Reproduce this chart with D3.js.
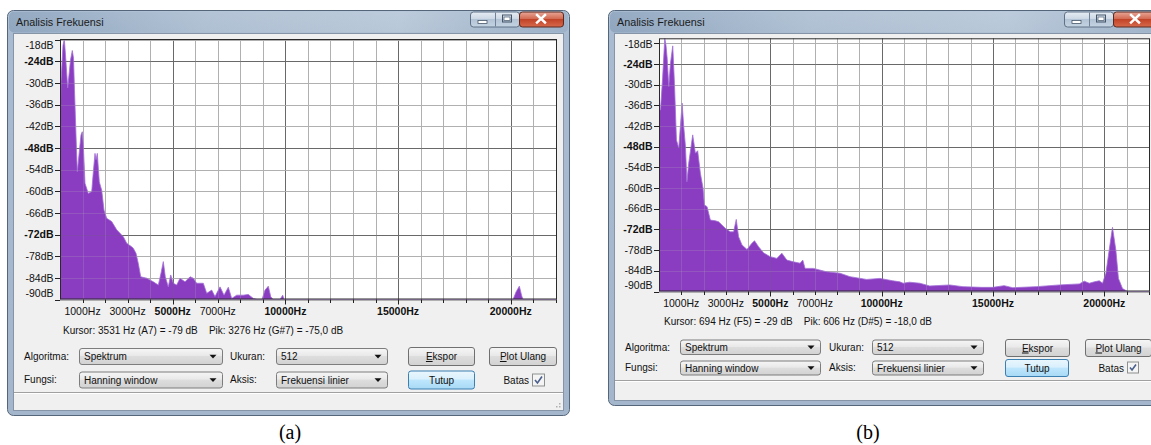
<!DOCTYPE html>
<html>
<head>
<meta charset="utf-8">
<script src="https://cdn.jsdelivr.net/npm/d3@7"></script>
<style>
html, body { margin: 0; padding: 0; background: #fff; }
svg { display: block; font-family: "Liberation Sans", Arial, sans-serif; }
</style>
</head>
<body>
<div id="container"></div>
<script>
// spectrum (a): frequency in Hz, level in dB (values below -90 are off the plot)
const freqA = [0, 44, 133, 191, 244, 288, 342, 399, 466, 546, 599, 643, 688, 732, 768, 821, 887, 932, 989, 1034,
    1109, 1256, 1407, 1486, 1553, 1597, 1655, 1744, 1850, 1952, 2072, 2294, 2516, 2809, 2959, 3181, 3252, 3372, 3474, 3581,
    3847, 4140, 4362, 4481, 4583, 4672, 4805, 4912, 5027, 5178, 5324, 5546, 5768, 5915, 6065, 6358, 6509, 6731, 6877, 7099,
    7277, 7468, 7618, 7840, 8133, 8355, 8577, 8741, 8963, 9096, 9242, 9349, 9451, 9761, 9881, 9939, 20100, 20233, 20379, 20485,
    20543, 22050];
const dbA = [-40.3, -29.7, -19.5, -17.8, -22.2, -26.4, -31.4, -27.8, -23.6, -21.0, -23.1, -31.9, -40.3, -48.6, -54.6, -51.3, -47.2, -44.4, -43.5, -47.2,
    -57.8, -60.6, -60.1, -54.1, -49.5, -51.3, -49.5, -57.4, -59.7, -65.2, -67.5, -68.4, -70.7, -72.6, -74.4, -75.4, -75.8, -77.2, -80.0, -83.7,
    -84.1, -85.1, -86.0, -82.7, -79.5, -83.7, -86.5, -83.2, -85.5, -86.0, -84.1, -85.1, -83.7, -84.1, -85.5, -85.5, -88.3, -87.4, -89.2, -86.5,
    -88.8, -86.6, -89.7, -88.8, -88.8, -88.6, -89.7, -91, -91, -87.4, -86.3, -89.2, -91, -91, -88.8, -91, -91, -87.9, -86.3, -89.0,
    -91, -91];

// spectrum (b)
const freqB = [0, 67, 157, 260, 313, 367, 439, 515, 618, 694, 784, 887, 1039, 1111, 1187, 1254, 1334, 1514, 1634, 1737,
    1858, 1979, 2037, 2158, 2306, 2530, 2678, 2978, 3202, 3350, 3470, 3573, 3726, 3950, 4173, 4290, 4469, 4693, 4993, 5293,
    5517, 5741, 6036, 6336, 6457, 6560, 6932, 7532, 8128, 8575, 9323, 9918, 10500, 10814, 10962, 11250, 11712, 12160, 13056, 13649,
    14500, 14992, 15500, 15888, 16936, 17979, 18875, 19100, 19323, 19550, 19770, 19918, 20070, 20217, 20365, 20517, 20633, 20813,
    21037, 22050];
const dbB = [-37.4, -37.4, -28.7, -16.6, -18.6, -22.4, -30.6, -23.8, -18.8, -29.7, -46.1, -48.4, -35.4, -42.2, -47.8, -58.2, -52.8, -44.6, -49.9, -49.2,
    -55.7, -60.1, -64.9, -65.4, -69.3, -69.5, -69.8, -71.7, -72.7, -72.7, -69.1, -74.1, -76.5, -77.8, -76.0, -75.3, -77.0, -78.8, -79.9, -80.4,
    -78.9, -80.9, -81.4, -81.8, -80.9, -83.3, -83.3, -84.3, -84.7, -85.7, -86.5, -86.2, -86.9, -87.2, -87.6, -87.3, -87.6, -88.4, -88.1, -88.6,
    -88.8, -88.8, -88.3, -88.9, -88.6, -88.1, -87.8, -87.0, -87.6, -87.2, -86.9, -87.6, -84.7, -78.0, -71.4, -78.0, -86.2, -89.1,
    -90.1, -91];

const dbTicks = [-18, -24, -30, -36, -42, -48, -54, -60, -66, -72, -78, -84, -90];
const dbMajor = [-24, -48, -72];
const hzLabels = [1000, 3000, 5000, 7000, 10000, 15000, 20000];
const hzMajor = [5000, 10000, 15000, 20000];

const infoA = "Kursor: 3531 Hz (A7) = -79 dB    Pik: 3276 Hz (G#7) = -75,0 dB";
const infoB = "Kursor: 694 Hz (F5) = -29 dB    Pik: 606 Hz (D#5) = -18,0 dB";

const panels = [
    {
        freq: freqA, db: dbA, info: infoA, caption: "(a)", capX: 290,
        win: {x: 7, y: 10, w: 562, h: 405}, client: {x: 13, y: 33, w: 550, h: 377},
        capBtn: {min: 470, max: 495, close: 519, end: 563},
        plot: {l: 60, t: 39, r: 557, b: 299.5}, dbTop: -17.8,
        hzY: 311, infoX: 63, infoY: 330.5, status: 392,
        rows: [356, 379.5], lab1: 24, lab2: 230,
        combos: [{x: 79, y: 348, w: 143, h: 16}, {x: 276, y: 348, w: 111, h: 16},
                 {x: 79, y: 371.5, w: 143, h: 16}, {x: 276, y: 371.5, w: 111, h: 16}],
        btns: [{x: 408, y: 347, w: 66, h: 18}, {x: 489, y: 347, w: 67, h: 18}, {x: 408, y: 370.5, w: 66, h: 18}],
        batasX: 529, check: {x: 532, y: 373.5, s: 13}
    },
    {
        freq: freqB, db: dbB, info: infoB, caption: "(b)", capX: 868,
        win: {x: 608, y: 10, w: 570, h: 395}, client: {x: 614, y: 33, w: 560, h: 367},
        capBtn: {min: 1064, max: 1089, close: 1113, end: 1160},
        plot: {l: 659, t: 38.3, r: 1150, b: 291.5}, dbTop: -16.6,
        hzY: 303, infoX: 664, infoY: 321.7, status: 380,
        rows: [347.3, 367.7], lab1: 625, lab2: 829,
        combos: [{x: 680, y: 339.5, w: 140, h: 14.5}, {x: 872, y: 339.5, w: 111, h: 14.5},
                 {x: 680, y: 360.5, w: 140, h: 14}, {x: 872, y: 360.5, w: 111, h: 14}],
        btns: [{x: 1005, y: 339, w: 64, h: 17}, {x: 1085, y: 339, w: 66, h: 17}, {x: 1005, y: 359, w: 63, h: 17}],
        batasX: 1124, check: {x: 1127, y: 361.5, s: 12}
    }
];

const comboText = [["Spektrum", "512"], ["Hanning window", "Frekuensi linier"]];

const svg = d3.select("#container").append("svg")
    .attr("width", 1151)
    .attr("height", 445);

const defs = svg.append("defs");
const grad = (id, stops, vertical = true) => {
    const lg = defs.append("linearGradient").attr("id", id)
        .attr("x1", 0).attr("y1", 0).attr("x2", vertical ? 0 : 1).attr("y2", vertical ? 1 : 0);
    stops.forEach(([o, c]) => lg.append("stop").attr("offset", o).attr("stop-color", c));
};
grad("frame", [[0, "#b6c7da"], [0.06, "#a8bbd0"], [1, "#a3b6cb"]]);
grad("titleGlow", [[0, "#7f98b3"], [0.35, "#b2c2d3"], [0.7, "#c2cfdd"], [1, "#93a9c0"]], false);
grad("btn", [[0, "#f6f6f6"], [0.45, "#e9e9e9"], [0.5, "#dddddd"], [1, "#d2d2d2"]]);
grad("btnFocus", [[0, "#eaf6fd"], [0.45, "#d9f0fc"], [0.5, "#bee6fd"], [1, "#a7d9f5"]]);
grad("capBtn", [[0, "#e6edf4"], [0.5, "#c9d6e3"], [0.5, "#b3c4d6"], [1, "#c6d4e2"]]);
grad("closeBtn", [[0, "#e9a797"], [0.5, "#d0644b"], [0.5, "#c24428"], [1, "#d76a4c"]]);

panels.forEach((p, i) => {
    const g = svg.append("g");
    const w = p.win, c = p.client;

    // window frame
    g.append("rect").attr("x", w.x + 0.5).attr("y", w.y + 0.5).attr("width", w.w).attr("height", w.h)
        .attr("rx", 6).attr("fill", "url(#frame)").attr("stroke", "#55667a");
    g.append("rect").attr("x", w.x + 2).attr("y", w.y + 1.5).attr("width", w.w - 3).attr("height", 21)
        .attr("rx", 5).attr("fill", "url(#titleGlow)").attr("opacity", 0.6);
    g.append("text").attr("x", w.x + 9).attr("y", 22.7).attr("dy", "0.35em")
        .attr("font-size", 10.8).attr("fill", "#1b1b1b").text("Analisis Frekuensi");

    // caption buttons
    const cb = p.capBtn, by = 11.5, bh = 15;
    g.append("rect").attr("x", cb.min + 0.5).attr("y", by + 0.5).attr("width", cb.close - cb.min).attr("height", bh)
        .attr("rx", 3).attr("fill", "url(#capBtn)").attr("stroke", "#5f7186");
    g.append("line").attr("x1", cb.max + 0.5).attr("x2", cb.max + 0.5).attr("y1", by + 1).attr("y2", by + bh)
        .attr("stroke", "#6f8297");
    g.append("rect").attr("x", cb.close + 0.5).attr("y", by + 0.5).attr("width", cb.end - cb.close).attr("height", bh)
        .attr("rx", 3).attr("fill", "url(#closeBtn)").attr("stroke", "#5a2a20");
    const mx = (cb.min + cb.max) / 2;
    g.append("rect").attr("x", mx - 4.5).attr("y", by + 9).attr("width", 9).attr("height", 3)
        .attr("fill", "#fff").attr("stroke", "#46566a").attr("stroke-width", 0.8);
    const xx = (cb.max + cb.close) / 2;
    g.append("rect").attr("x", xx - 4.5).attr("y", by + 3.5).attr("width", 9).attr("height", 7)
        .attr("fill", "none").attr("stroke", "#46566a").attr("stroke-width", 1);
    g.append("rect").attr("x", xx - 3).attr("y", by + 5.5).attr("width", 6).attr("height", 3.5)
        .attr("fill", "#fff").attr("stroke", "#46566a").attr("stroke-width", 0.7);
    const cx = Math.min((cb.close + cb.end) / 2, cb.close + 22);
    g.append("path").attr("d", `M${cx - 4},${by + 3.5}L${cx + 4},${by + 11}M${cx + 4},${by + 3.5}L${cx - 4},${by + 11}`)
        .attr("stroke", "#fff").attr("stroke-width", 2.4).attr("stroke-linecap", "square");

    // client area
    g.append("rect").attr("x", c.x + 0.5).attr("y", c.y + 0.5).attr("width", c.w).attr("height", c.h)
        .attr("fill", "#f0f0f0").attr("stroke", "#8594a6");
    g.append("line").attr("x1", c.x + 1).attr("x2", c.x + c.w).attr("y1", p.status + 0.5).attr("y2", p.status + 0.5)
        .attr("stroke", "#a0a0a0");
    g.append("line").attr("x1", c.x + 1).attr("x2", c.x + c.w).attr("y1", p.status + 1.5).attr("y2", p.status + 1.5)
        .attr("stroke", "#ffffff");

    // plot
    const pl = p.plot;
    const x = d3.scaleLinear().domain([0, 22050]).range([pl.l, pl.r]);
    const y = d3.scaleLinear().domain([-90, p.dbTop]).range([pl.b, pl.t]).clamp(true);

    g.append("rect").attr("x", pl.l).attr("y", pl.t).attr("width", pl.r - pl.l).attr("height", pl.b - pl.t)
        .attr("fill", "#fff");

    const hzTicks = x.ticks(22).filter(d => d > 0);
    const drawGrid = (sel, opacity) => {
        sel.selectAll(null).data(hzTicks).join("line")
            .attr("x1", d => Math.round(x(d)) + 0.5).attr("x2", d => Math.round(x(d)) + 0.5)
            .attr("y1", pl.t).attr("y2", pl.b)
            .attr("stroke", d => hzMajor.includes(d) ? "#6a6a6a" : "#b0b0b0")
            .attr("stroke-opacity", opacity);
        sel.selectAll(null).data(dbTicks).join("line")
            .attr("x1", pl.l).attr("x2", pl.r)
            .attr("y1", d => Math.round(y(d)) + 0.5).attr("y2", d => Math.round(y(d)) + 0.5)
            .attr("stroke", d => dbMajor.includes(d) ? "#6a6a6a" : "#b0b0b0")
            .attr("stroke-opacity", opacity);
    };
    drawGrid(g.append("g"), 1);

    const clipId = "clip" + i;
    defs.append("clipPath").attr("id", clipId).append("rect")
        .attr("x", pl.l).attr("y", pl.t).attr("width", pl.r - pl.l).attr("height", pl.b - pl.t);

    const pts = p.freq.map((f, k) => [f, p.db[k]]);
    const area = d3.area()
        .x(d => x(d[0]))
        .y0(pl.b)
        .y1(d => y(d[1]));
    g.append("path").datum(pts)
        .attr("clip-path", `url(#${clipId})`)
        .attr("d", area)
        .attr("fill", "#8b3dc2")
        .attr("stroke", "#a270d6")
        .attr("stroke-width", 0.8);

    drawGrid(g.append("g"), 0.22);

    g.append("rect").attr("x", pl.l + 0.5).attr("y", pl.t + 0.5).attr("width", pl.r - pl.l - 1).attr("height", pl.b - pl.t - 1)
        .attr("fill", "none").attr("stroke", "#2a2a2a");

    // y ruler
    const yr = g.append("g").attr("font-size", 10.5).attr("fill", "#111");
    yr.selectAll("text").data(dbTicks).join("text")
        .attr("x", pl.l - 6.5)
        .attr("y", d => Math.max(pl.t + 6.5, Math.min(pl.b - 6, y(d))))
        .attr("dy", "0.35em")
        .attr("text-anchor", "end")
        .attr("font-weight", d => dbMajor.includes(d) ? "bold" : "normal")
        .text(d => d + "dB");
    yr.selectAll("line").data(dbTicks).join("line")
        .attr("x1", pl.l - 5).attr("x2", pl.l)
        .attr("y1", d => Math.round(y(d)) + 0.5).attr("y2", d => Math.round(y(d)) + 0.5)
        .attr("stroke", "#222");

    // x ruler
    const xr = g.append("g").attr("font-size", 10.5).attr("fill", "#111");
    xr.selectAll("line").data(hzTicks).join("line")
        .attr("x1", d => Math.round(x(d)) + 0.5).attr("x2", d => Math.round(x(d)) + 0.5)
        .attr("y1", pl.b).attr("y2", d => pl.b + (hzMajor.includes(d) ? 5 : 3.5))
        .attr("stroke", "#222");
    xr.selectAll("text").data(hzLabels).join("text")
        .attr("x", d => x(d))
        .attr("y", p.hzY)
        .attr("dy", "0.35em")
        .attr("text-anchor", "middle")
        .attr("font-weight", d => hzMajor.includes(d) ? "bold" : "normal")
        .text(d => d + "Hz");

    g.append("text").attr("x", p.infoX).attr("y", p.infoY).attr("dy", "0.35em")
        .attr("font-size", 10).attr("fill", "#111").attr("xml:space", "preserve").text(p.info);

    // controls
    const ctl = g.append("g").attr("font-size", 10).attr("fill", "#111");
    [["Algoritma:", "Ukuran:"], ["Fungsi:", "Aksis:"]].forEach((pair, r) => {
        ctl.append("text").attr("x", p.lab1).attr("y", p.rows[r]).attr("dy", "0.35em").text(pair[0]);
        ctl.append("text").attr("x", p.lab2).attr("y", p.rows[r]).attr("dy", "0.35em").text(pair[1]);
    });
    p.combos.forEach((b, k) => {
        ctl.append("rect").attr("x", b.x + 0.5).attr("y", b.y + 0.5).attr("width", b.w).attr("height", b.h)
            .attr("rx", 2.5).attr("fill", "url(#btn)").attr("stroke", "#7d7d7d");
        ctl.append("text").attr("x", b.x + 5).attr("y", b.y + b.h / 2 + 0.5).attr("dy", "0.35em")
            .text(comboText[Math.floor(k / 2)][k % 2]);
        const ax = b.x + b.w - 9, ay = b.y + b.h / 2 + 0.5;
        ctl.append("path").attr("d", `M${ax - 3.5},${ay - 1.7}L${ax + 3.5},${ay - 1.7}L${ax},${ay + 2}Z`)
            .attr("fill", "#111");
    });
    const btnLabels = [["E", "kspor"], ["P", "lot Ulang"], ["", "Tutup"]];
    p.btns.forEach((b, k) => {
        ctl.append("rect").attr("x", b.x + 0.5).attr("y", b.y + 0.5).attr("width", b.w).attr("height", b.h)
            .attr("rx", 2.5).attr("fill", k === 2 ? "url(#btnFocus)" : "url(#btn)")
            .attr("stroke", k === 2 ? "#3c7fb1" : "#707070");
        const t = ctl.append("text").attr("x", b.x + b.w / 2 + 0.5).attr("y", b.y + b.h / 2 + 0.5)
            .attr("dy", "0.35em").attr("text-anchor", "middle");
        if (btnLabels[k][0]) t.append("tspan").attr("text-decoration", "underline").text(btnLabels[k][0]);
        t.append("tspan").text(btnLabels[k][1]);
    });
    ctl.append("text").attr("x", p.batasX).attr("y", p.check.y + p.check.s / 2 + 0.5).attr("dy", "0.35em")
        .attr("text-anchor", "end").text("Batas");
    const ck = p.check;
    ctl.append("rect").attr("x", ck.x + 0.5).attr("y", ck.y + 0.5).attr("width", ck.s - 1).attr("height", ck.s - 1)
        .attr("fill", "#f4f4f4").attr("stroke", "#8e8f8f");
    ctl.append("path")
        .attr("d", `M${ck.x + 3},${ck.y + ck.s * 0.5}L${ck.x + ck.s * 0.42},${ck.y + ck.s - 3.5}L${ck.x + ck.s - 3},${ck.y + 3}`)
        .attr("fill", "none").attr("stroke", "#4a5f8c").attr("stroke-width", 1.6);

    // size grip
    const gx = c.x + c.w - 4, gy = c.y + c.h - 4;
    [[0, 0], [-3, 0], [0, -3]].forEach(([dx, dy]) =>
        g.append("rect").attr("x", gx + dx).attr("y", gy + dy).attr("width", 1.5).attr("height", 1.5).attr("fill", "#b0b0b0"));

    // figure caption
    svg.append("text").attr("x", p.capX).attr("y", 432).attr("dy", "0.35em")
        .attr("text-anchor", "middle").attr("font-family", "'Liberation Serif', 'Times New Roman', serif")
        .attr("font-size", 20).attr("fill", "#000").text(p.caption);
});
</script>
</body>
</html>
